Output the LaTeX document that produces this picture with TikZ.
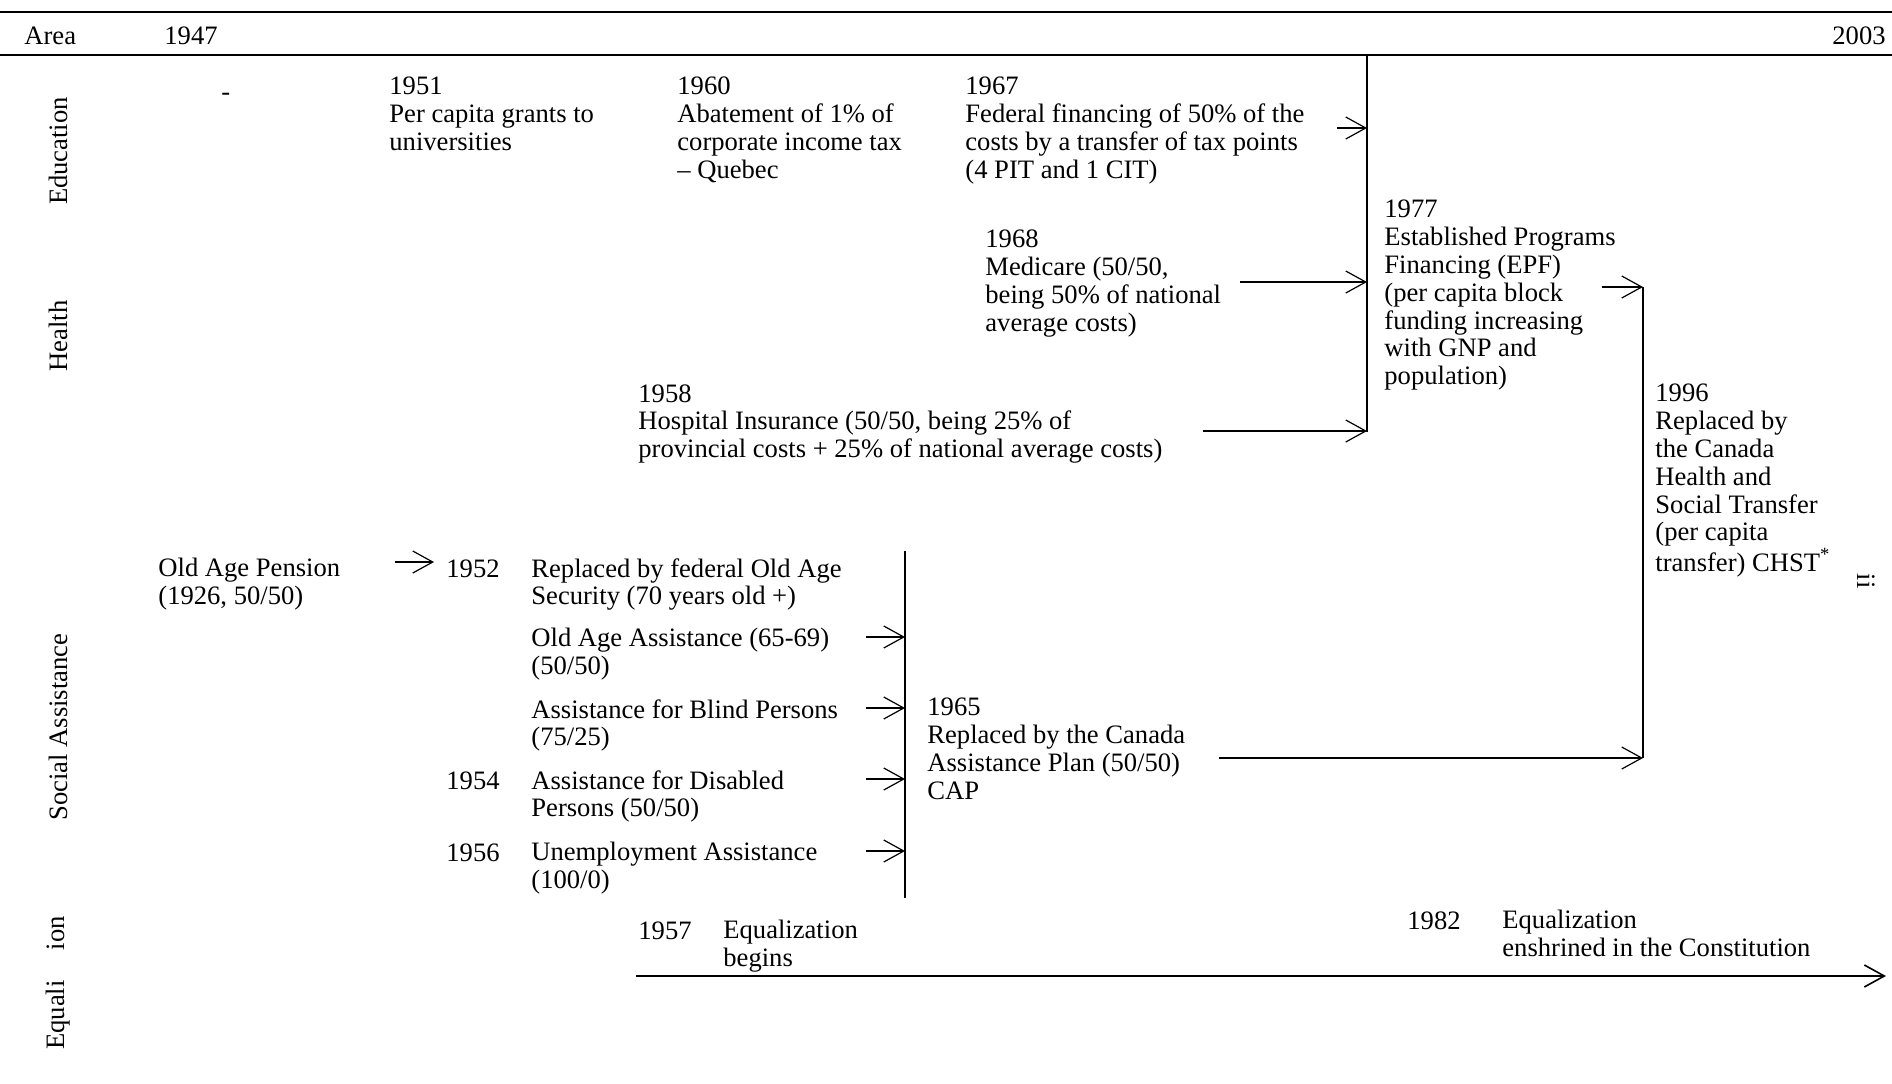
\documentclass[tikz,border=0pt]{standalone}
\usepackage{fontspec}
\setmainfont{Liberation Serif}
\usetikzlibrary{arrows.meta}

\tikzset{
  txt/.style={anchor=north west, align=left, inner sep=0pt, yshift=-1.2pt, font=\fontsize{13.3}{13.9}\selectfont, execute at begin node=\strut},
  area/.style={rotate=90, inner sep=0pt, font=\fontsize{13.3}{13.9}\selectfont},
  flow/.style={-{Straight Barb[length=10pt,width=11pt]}, line width=0.6pt},
  bar/.style={line width=0.7pt},
  rule/.style={line width=1.3pt}
}

\begin{document}
\begin{tikzpicture}[x=0.5pt,y=-0.5pt]
	\useasboundingbox (0,0) rectangle (1892,1083);

	%en-tete
	\draw [rule] (0,12) -- (1892,12);
	\draw [rule] (0,55) -- (1892,55);
	\node [txt] (area) at (24,22.5) {Area};
	\node [txt] (start) at (164,22.5) {1947};
	\node [txt,anchor=north east] (end) at (1886,22.5) {2003};

	%domaines
	\node [area] (lEdu) at (58,151) {Education};
	\node [area] (lHealth) at (58,336) {Health};
	\node [area] (lSocial) at (58,727) {Social Assistance};
	\node [area] (lEqual) at (58,983) {Equali\hspace{15pt}ion};

	%education
	\node [txt] (dash) at (221,78.5) {-};
	\node [txt] (g1951) at (389,74.5) {1951\\Per capita grants to\\universities};
	\node [txt] (g1960) at (677,74.5) {1960\\Abatement of 1\% of\\corporate income tax\\-- Quebec};
	\node [txt] (g1967) at (965,74.5) {1967\\Federal financing of 50\% of the\\costs by a transfer of tax points\\(4 PIT and 1 CIT)};

	%sante
	\node [txt] (g1968) at (985,227.5) {1968\\Medicare (50/50,\\being 50\% of national\\average costs)};
	\node [txt] (g1958) at (638,381.5) {1958\\Hospital Insurance (50/50, being 25\% of\\provincial costs + 25\% of national average costs)};
	\node [txt] (g1977) at (1384,197.5) {1977\\Established Programs\\Financing (EPF)\\(per capita block\\funding increasing\\with GNP and\\population)};
	\node [txt] (g1996) at (1655,381.5) {1996\\Replaced by\\the Canada\\Health and\\Social Transfer\\(per capita\\transfer) CHST\textsuperscript{*}};
	\node [inner sep=0pt,font=\fontsize{13.3}{13.9}\selectfont,rotate=-90] (ii) at (1866,581) {ii};

	%aide sociale
	\node [txt] (oap) at (158,555.5) {Old Age Pension\\(1926, 50/50)};
	\node [txt] (y1952) at (446,555.5) {1952};
	\node [txt] (oas) at (531,555.5) {Replaced by federal Old Age\\Security (70 years old +)};
	\node [txt] (oaa) at (531,625.5) {Old Age Assistance (65-69)\\(50/50)};
	\node [txt] (blind) at (531,696.5) {Assistance for Blind Persons\\(75/25)};
	\node [txt] (y1954) at (446,767.5) {1954};
	\node [txt] (disab) at (531,767.5) {Assistance for Disabled\\Persons (50/50)};
	\node [txt] (y1956) at (446,839.5) {1956};
	\node [txt] (unemp) at (531,839.5) {Unemployment Assistance\\(100/0)};
	\node [txt] (g1965) at (927,695.5) {1965\\Replaced by the Canada\\Assistance Plan (50/50)\\CAP};

	%perequation
	\node [txt] (y1957) at (638,917.5) {1957};
	\node [txt] (eq57) at (723,917.5) {Equalization\\begins};
	\node [txt] (y1982) at (1407,907.5) {1982};
	\node [txt] (eq82) at (1502,907.5) {Equalization\\enshrined in the Constitution};

	%barres verticales
	\coordinate (epfTop) at (1367,55);
	\coordinate (epfBot) at (1367,432);
	\coordinate (chstTop) at (1643,287);
	\coordinate (chstBot) at (1643,758);
	\coordinate (capTop) at (905,551);
	\coordinate (capBot) at (905,898);
	\draw [bar] (epfTop) -- (epfBot);
	\draw [bar] (chstTop) -- (chstBot);
	\draw [bar] (capTop) -- (capBot);

	%fleches
	\coordinate (a1967) at (1337,128);
	\coordinate (a1968) at (1240,282);
	\coordinate (a1958) at (1203,431);
	\coordinate (aEpf) at (1602,287);
	\coordinate (aCap) at (1219,758);
	\coordinate (aOap) at (395,562);
	\coordinate (aOaa) at (866,637);
	\coordinate (aBlind) at (866,708);
	\coordinate (aDisab) at (866,779);
	\coordinate (aUnemp) at (866,851);
	\coordinate (eqStart) at (636,976);
	\coordinate (eqEnd) at (1886,976);

	\draw [flow] (a1967) -- (a1967 -| epfTop);
	\draw [flow] (a1968) -- (a1968 -| epfTop);
	\draw [flow] (a1958) -- (a1958 -| epfTop);
	\draw [flow] (aEpf) -- (chstTop);
	\draw [flow] (aCap) -- (chstBot);
	\draw [flow,shorten >=6pt] (aOap) -- (aOap -| y1952.west);
	\foreach \s in {aOaa,aBlind,aDisab,aUnemp}
		\draw [flow] (\s) -- (\s -| capTop);
	\draw [flow,line width=0.8pt] (eqStart) -- (eqEnd);
\end{tikzpicture}
\end{document}
